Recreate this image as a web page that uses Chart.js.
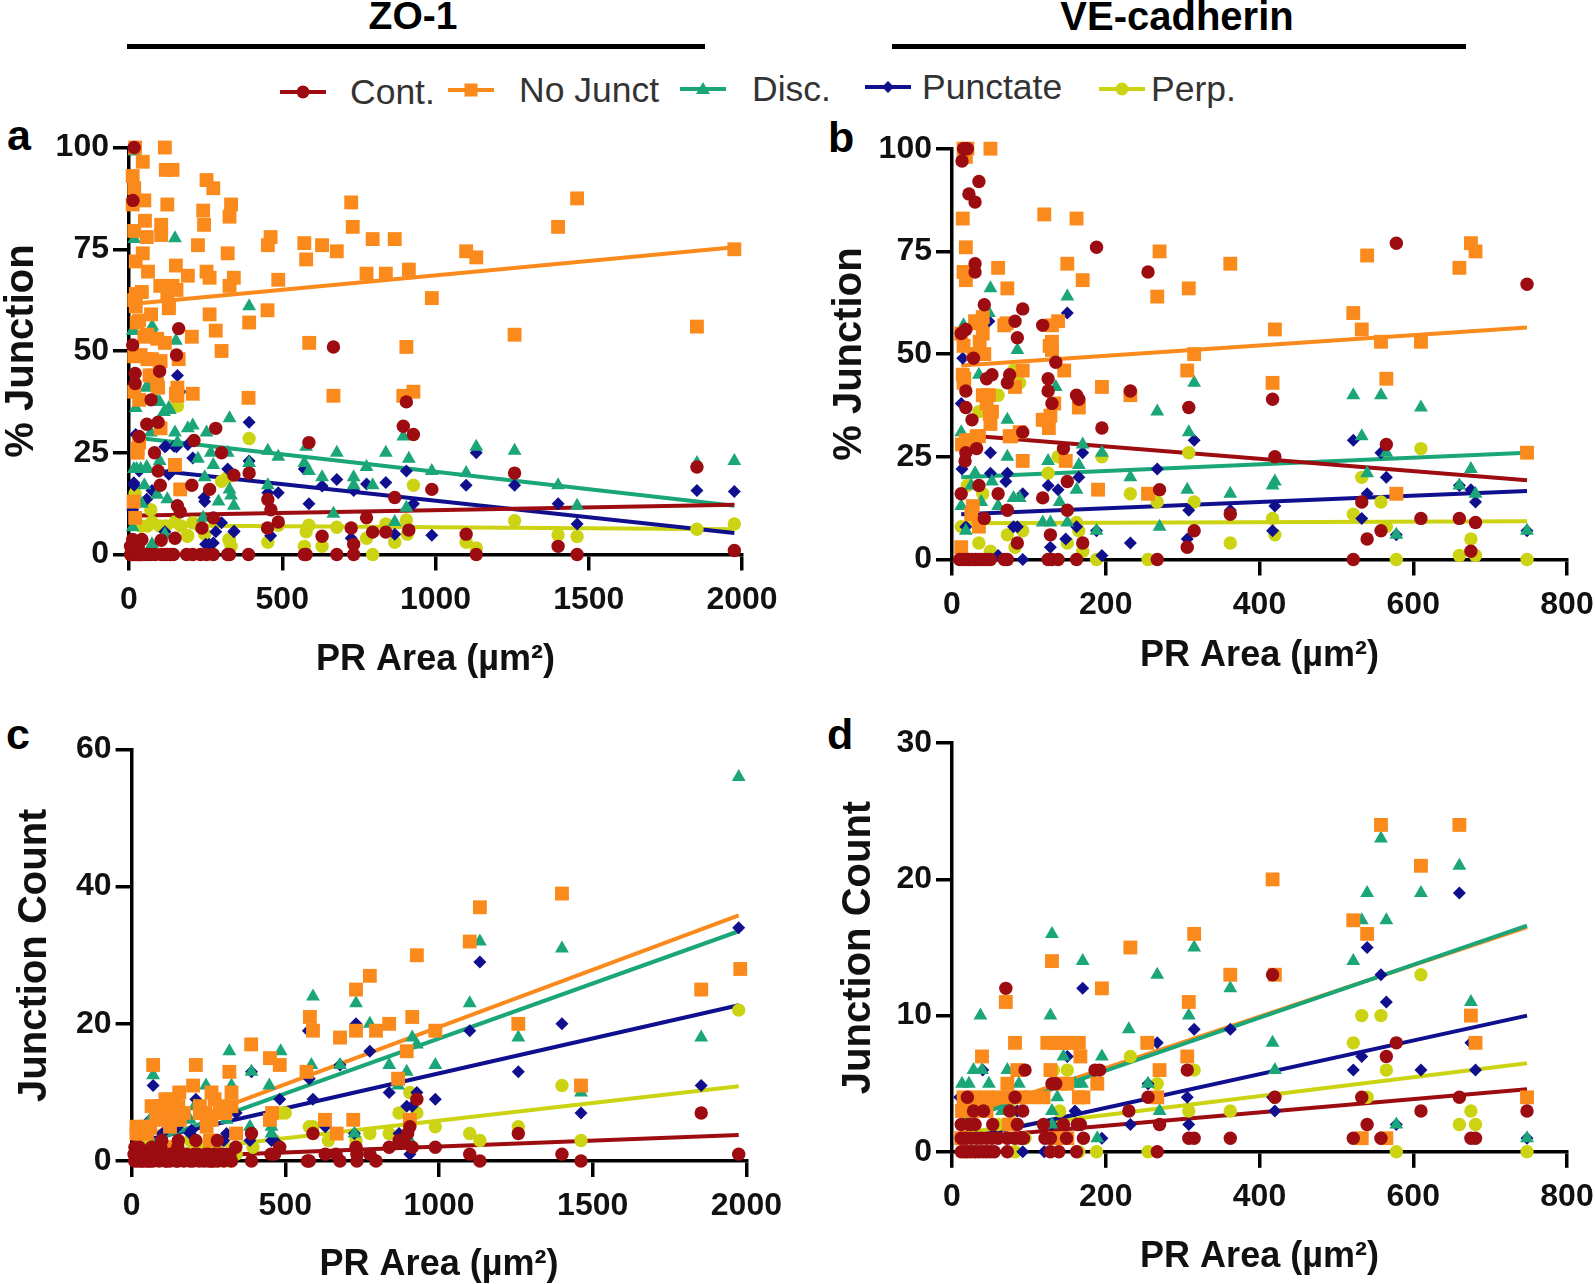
<!DOCTYPE html>
<html lang="en">
<head>
<meta charset="UTF-8">
<title>Junction type vs PR area</title>
<style>
    body { margin: 0; background: #fff; font-family: "Liberation Sans", Arial, sans-serif; color: #000; }
    #page { position: relative; width: 1595px; height: 1284px; overflow: hidden; }
    canvas { position: absolute; }
    .head { position: absolute; font-weight: bold; line-height: 40px; transform: translateX(-50%); white-space: nowrap; }
    .bar { position: absolute; height: 5px; background: #000; }
    .letter { position: absolute; font-weight: bold; font-size: 43px; line-height: 44px; }
    .leg { position: absolute; font-size: 35.5px; line-height: 38px; color: #333; white-space: nowrap; }
    .key { position: absolute; }
</style>
<script src="https://cdn.jsdelivr.net/npm/chart.js"></script>
</head>
<body>
<div id="page">
    <div class="head" style="left:413px;top:-4px;font-size:39px">ZO-1</div>
    <div class="head" style="left:1177px;top:-4px;font-size:40px">VE-cadherin</div>
    <div class="bar" style="left:127px;top:44px;width:578px"></div>
    <div class="bar" style="left:892px;top:44px;width:574px"></div>
    <div id="legend"></div>
    <div class="letter" style="left:7px;top:113px">a</div>
    <div class="letter" style="left:828px;top:115px">b</div>
    <div class="letter" style="left:6px;top:712px">c</div>
    <div class="letter" style="left:827px;top:712px">d</div>
    <canvas id="a"></canvas>
    <canvas id="b"></canvas>
    <canvas id="c"></canvas>
    <canvas id="d"></canvas>
</div>

<script>
// series names and colours
const names = ['Cont.', 'No Junct', 'Disc.', 'Punctate', 'Perp.'];
const colors = ['#9c0c10', '#fb8a1c', '#1aa678', '#10108f', '#ccd312'];
const shapes = ['circle', 'rect', 'triangle', 'rectRot', 'circle'];
const radii = [6.7, 9.8, 8, 6.5, 6.7];

// tick labels
const xTicksZO = [0, 500, 1000, 1500, 2000];
const xTicksVE = [0, 200, 400, 600, 800];
const yTicksPct = [0, 25, 50, 75, 100];
const yTicksC = [0, 20, 40, 60];
const yTicksD = [0, 10, 20, 30];

// a: ZO-1 % junction, [area, value]
const contA = [[1975,1],[1853,21.5],[1462,0],[1400,2],[1258,20],[1133,0],[1100,5],[988,16],[928,29.5],[913,6],[905,37.5],[895,31.5],[867,14],[838,5.5],[795,5.5],[775,9],[733,0],[733,2.5],[725,6.5],[678,0],[667,51],[630,4.5],[587,27.5],[578,0],[572,0],[487,8],[463,11],[453,13.5],[452,6.5],[392,20],[390,0],[342,19.5],[328,0],[322,0],[302,25],[283,31],[275,0],[263,16],[275,9],[253,0],[233,0],[208,0],[188,0],[212,28],[205,17],[238,6.5],[162,55.5],[155,49],[158,12],[167,10.5],[150,4],[100,45],[95,32.5],[95,20.5],[102,17],[83,25],[105,3.5],[58,32],[72,38],[33,29],[17,100],[13,87],[12,51.5],[20,44.5],[20,42],[5,0],[10,0],[15,0],[20,0],[25,0],[30,0],[35,0],[40,0],[50,0],[60,0],[70,0],[85,0],[105,0],[115,0],[125,0],[135,0],[145,0],[12,3.7],[42,3.7],[17,1.5],[30,2],[5,2]];
const noJunctA = [[1975,75],[1853,56],[1462,87.5],[1400,80.5],[1258,54],[1133,73],[1100,74.5],[988,63],[928,40],[913,70],[905,51],[895,39],[867,77.5],[838,69],[795,77.5],[775,69],[730,80.5],[725,86.5],[678,74.5],[667,39],[630,76],[588,52],[578,72.5],[572,76.5],[487,67.5],[462,78],[453,76],[452,60],[392,57],[390,38.5],[342,68],[328,66],[333,86],[328,83],[322,74],[302,50],[283,55],[275,90],[263,68],[253,92],[253,69.5],[263,59],[245,81],[242,84.5],[225,76],[208,39.5],[205,53.5],[192,68.5],[153,71],[142,94.5],[120,94.5],[117,100],[125,86],[105,81],[105,78.5],[102,66],[142,66],[155,65],[125,63.5],[130,60.5],[162,48],[158,41],[153,39.5],[150,22],[167,16],[117,52],[92,53],[100,47.5],[95,41],[67,44],[75,48],[50,53.5],[72,59],[62,69.5],[45,74],[58,78],[52,82],[50,87],[45,96.5],[20,100],[12,93],[17,90],[12,86],[17,79.5],[22,72],[42,64.5],[17,62.5],[25,57],[17,48.7],[17,40],[28,25],[28,26],[15,13],[20,9],[33,38],[33,57.5],[22,61],[22,64],[60,54],[38,49],[60,48],[103,47.5],[76,44],[92,41.8],[103,31],[33,27.5],[158,39],[130,61]];
const discA = [[1975,23],[1853,22.5],[1462,12],[1400,17],[1258,25.5],[1133,26.5],[1100,20],[988,20.5],[913,23.5],[905,11.5],[895,29],[867,8],[838,25],[795,17],[775,21.5],[733,19],[733,17],[678,25],[667,10],[630,19],[587,20.5],[578,26.5],[572,22.5],[487,24],[453,25.5],[453,17],[392,61],[392,22.5],[342,12],[333,14.5],[328,16],[328,33.5],[322,25],[292,13],[275,22],[267,25],[253,30],[247,19],[242,9],[225,23.5],[208,31.7],[192,31],[150,77.7],[153,52.5],[133,35.5],[150,30],[158,27.5],[125,13.6],[117,5],[100,23],[100,37.5],[92,14.7],[58,41],[72,55.5],[58,21.5],[50,17],[42,12.5],[17,99],[17,77.5],[12,55],[22,36],[25,21],[12,6.7],[75,2.5],[16,21],[38,21],[60,21],[71,30],[114,35],[130,36],[60,41.5],[92,37.7],[76,56],[16,55]];
const punctA = [[1975,15.5],[1853,15.7],[1462,7.5],[1400,12.5],[1258,17],[1133,25],[1100,17],[988,4.7],[928,12.5],[905,20.5],[867,5],[838,17.7],[775,17.3],[733,15.7],[725,4],[678,18.4],[630,16.8],[587,12.5],[572,21],[487,15.2],[462,4.6],[453,15.2],[392,32.5],[392,23],[342,5.6],[322,21],[302,7.8],[283,5.6],[275,2.8],[250,2.5],[247,13],[208,23.7],[192,27],[158,44],[167,40],[155,26.5],[117,26.5],[130,19.7],[117,5.6],[17,17],[33,20.5],[22,29.5],[12,11],[75,15.7],[58,13.6],[12,1],[16,17.6],[120,26.6],[147,26.6],[245,14],[343,5.7],[261,2.5]];
const perpA = [[1975,7.5],[1853,6.2],[1462,4.4],[1400,4.8],[1258,8.3],[1133,1.6],[1100,3],[928,17],[905,8.5],[908,5],[867,3],[838,7.5],[795,0],[775,4],[678,6.7],[630,2],[587,7.2],[578,5.6],[572,2],[487,7.2],[453,3],[392,28.5],[328,3.5],[333,2],[322,19],[302,18],[283,8],[247,5],[192,4.6],[208,7.8],[150,8],[100,7],[158,36.5],[75,8],[40,7],[20,15],[60,7],[120,7],[170,7],[230,7],[71,11],[190,4.5],[326,3.7]];

// b: VE-cadherin % junction
const contB = [[748,67],[681,9],[675,2],[660,10],[610,10],[578,77],[565,28],[558,7],[540,5],[533,14],[522,0],[420,25],[417,39],[362,11],[315,7],[308,37],[306,3],[270,17],[267,0],[255,70],[232,41],[195,32],[188,76],[170,4],[165,39],[162,40],[162,0],[150,12],[150,19],[145,27],[135,48],[130,38],[128,6],[125,41],[125,44],[118,57],[118,15],[130,0],[138,0],[125,0],[92,61],[92,31],[85,54],[82,58],[85,4],[75,45],[72,43],[72,12],[68,0],[60,16],[52,45],[45,44],[42,62],[42,10],[35,18],[35,92],[30,87],[22,89],[20,100],[15,100],[13,97],[30,72],[30,70],[12,55],[18,56],[28,49],[18,41],[18,37],[26,34],[32,27],[18,26],[17,24],[12,16],[10,0],[14,0],[18,0],[22,0],[26,0],[30,0],[34,0],[38,0],[42,0],[46,0],[50,0],[72,0]];
const noJunctB = [[748,26],[681,75],[675,77],[660,71],[610,53],[578,16],[565,44],[558,53],[540,74],[533,56],[522,60],[420,56],[417,43],[362,72],[315,50],[308,66],[306,46],[270,75],[267,64],[255,16],[232,40],[195,42],[190,17],[170,68],[165,37],[162,83],[150,72],[146,46],[148,24],[138,58],[133,38],[130,51],[130,53],[128,35],[126,32],[120,84],[118,34],[130,57],[92,46],[92,24],[88,31],[82,42],[75,30],[72,66],[68,57],[60,71],[50,100],[52,36],[50,33],[48,40],[45,38],[40,55],[40,59],[42,50],[38,58],[30,58],[35,30],[30,29],[28,50],[27,13],[25,11],[22,29],[18,68],[18,76],[14,83],[20,100],[18,98],[15,70],[12,55],[14,45],[15,52],[13,28],[12,3],[15,43],[35,8],[15,100],[32,57.5],[71,57.5],[127,52],[16,44],[40,40],[49,35.5],[123,34],[77,30],[18,29],[32,30],[36,53]];
const discB = [[748,7],[681,16],[675,22],[660,18],[610,37],[578,6],[565,26],[558,40],[540,21],[533,30],[522,40],[420,19],[417,18],[362,16],[315,43],[308,31],[306,17],[270,8],[267,36],[232,20],[195,26],[188,7],[170,28],[165,23],[162,17],[150,64],[150,9],[140,14],[135,42],[125,24],[128,9],[118,9],[85,51],[88,15],[80,15],[72,34],[72,25],[60,13],[52,19],[50,66],[48,60],[38,14],[35,45],[12,31],[15,57],[18,7],[12,13],[25,18],[30,21]];
const punctB = [[748,7],[681,14],[675,17],[660,18],[578,6],[565,20],[558,26],[540,16],[533,10],[522,29],[420,13],[417,7],[362,12],[315,29],[308,12],[306,5],[267,22],[232,4],[195,1],[188,7],[170,26],[165,20],[162,8],[150,60],[148,5],[138,17],[125,18],[128,3],[125,0],[92,16],[92,0],[85,8],[80,8],[72,21],[70,19],[60,1],[50,26],[50,21],[48,58],[18,8],[14,49],[12,38],[13,22],[25,0]];
const perpB = [[748,0],[681,1],[675,5],[660,1],[610,27],[578,0],[565,8],[558,14],[533,20],[522,11],[420,6],[417,10],[362,4],[315,14],[308,26],[267,14],[255,0],[232,16],[195,25],[188,0],[170,2],[165,7],[162,9],[150,4],[138,25],[125,21],[92,7],[88,43],[80,46],[72,6],[82,3],[60,40],[50,2],[35,4],[35,36],[12,8],[20,18],[40,16]];

// c: ZO-1 junction count
const contC = [[1975,1],[1853,7],[1462,0],[1400,1],[1258,4],[1133,0],[1100,1],[988,2],[928,9],[913,2],[905,5],[898,4],[885,3],[870,3],[838,2],[795,0],[775,1],[733,0],[733,1],[730,2],[678,0],[665,1],[630,1],[590,4],[578,0],[572,0],[482,2],[465,1],[453,1],[390,4],[390,0],[339,2],[325,0],[320,1],[279,3],[270,1],[250,1],[235,0],[209,3],[205,1],[190,0],[180,1],[152,3],[150,2],[145,0],[125,1],[98,3],[95,2],[90,0],[80,1],[65,2],[55,0],[40,1],[25,2],[11,2],[10,0],[20,0],[30,0],[8,1],[70,0],[115,0],[135,1],[220,0],[260,0],[300,0],[295,1],[15,1],[25,1],[35,0],[45,0],[55,1],[60,0],[105,1],[110,0],[125,0],[150,0],[155,1],[170,0],[200,0],[215,1],[240,1],[250,0],[265,0],[280,0],[285,1],[310,1]];
const noJunctC = [[1980,28],[1853,25],[1462,11],[1400,39],[1258,20],[1133,37],[1100,32],[988,19],[928,30],[913,21],[895,16],[905,6],[867,12],[838,20],[795,19],[775,27],[730,25],[730,19],[721,6],[678,18],[667,4],[629,6],[590,19],[580,21],[569,13],[482,14],[457,7],[450,15],[450,6],[389,17],[340,4],[318,13],[325,10],[325,8],[298,8],[287,7],[260,10],[260,6],[244,5],[255,3],[222,8],[222,7],[209,14],[200,11],[155,10],[152,8],[157,6],[135,6],[125,9],[125,5],[108,7],[92,8],[92,6],[70,14],[65,8],[60,5],[43,5],[16,5],[16,4],[30,4],[50,4],[122,2],[80,7],[110,9],[140,7],[170,7],[240,7],[270,9],[305,7]];
const discC = [[1975,56],[1853,18],[1462,10],[1400,31],[1258,18],[1133,32],[1100,23],[988,14],[928,17],[913,18],[895,13],[867,11],[838,14],[905,3],[795,0],[775,20],[730,23],[725,4],[678,14],[590,24],[585,14],[485,16],[448,11],[455,5],[455,4],[390,13],[385,5],[325,11],[318,16],[309,6],[242,11],[205,8],[190,6],[70,12.5],[60,6],[150,8],[100,6],[130,7],[250,6]];
const punctC = [[1975,34],[1853,11],[1462,7],[1400,20],[1258,13],[1133,29],[1100,19],[988,9],[928,10],[913,8],[895,8],[905,1],[870,4],[838,10],[775,16],[730,20],[725,4],[678,14],[630,5],[590,9],[578,12],[575,19],[482,9],[455,3],[465,3],[390,13],[385,3],[340,7],[309,4],[300,3],[209,9],[195,4.5],[70,11],[60,6],[190,4],[150,5],[100,4]];
const perpC = [[1975,22],[1462,3],[1400,11],[1258,5],[1133,3],[1100,4],[988,5],[928,7],[905,10],[870,7],[838,4],[775,4],[730,3],[590,5],[578,5],[487,7],[465,3],[395,2],[340,1],[320,0],[190,3],[100,1],[230,2],[60,1],[40,3],[150,2],[275,0],[500,7],[640,3]];

// d: VE-cadherin junction count
const contD = [[748,3],[681,1],[675,1],[660,4],[610,3],[578,8],[565,7],[558,1],[540,2],[533,4],[522,1],[420,4],[417,13],[362,1],[315,1],[308,1],[306,6],[270,2],[267,0],[255,4],[230,3],[192,6],[186,6],[171,1],[167,2],[163,2],[162,0],[149,1],[145,2],[135,5],[130,5],[128,1],[121,1],[119,2],[128,0],[139,0],[95,6],[92,3],[93,1],[85,2],[82,4],[75,3],[89,1],[82,1],[72,1],[70,12],[72,0],[60,1],[53,2],[41,3],[28,3],[30,2],[20,4],[22,2],[12,2],[12,1],[18,1],[25,1],[32,1],[38,1],[45,1],[52,1],[12,0],[16,0],[20,0],[25,0],[30,0],[35,0],[40,0],[45,0],[50,0],[55,0]];
const noJunctD = [[748,4],[681,8],[675,10],[660,24],[610,21],[565,1],[558,24],[540,16],[533,1],[522,17],[420,13],[417,20],[362,13],[315,16],[308,11],[306,7],[270,6],[267,4],[254,8],[232,15],[195,12],[189,5],[171,4],[165,4],[167,7],[165,8],[154,8],[143,8],[134,8],[124,8],[130,14],[128,6],[150,5],[141,5],[119,4],[102,4],[90,4],[85,6],[82,8],[70,11],[72,5],[74,2],[39,7],[75,4],[60,4],[45,4],[30,4],[15,4],[13,3],[28,3],[45,3],[12,1],[134,1],[150,1]];
const discD = [[748,1],[675,11],[660,21],[610,19],[578,2],[565,17],[558,23],[540,19],[533,17],[522,14],[420,6],[417,8],[362,12],[315,15],[308,10],[270,3],[267,13],[255,5],[230,9],[195,7],[189,1],[170,14],[169,5],[160,5],[145,7],[137,4],[130,16],[128,10],[130,3],[87,5],[72,6],[48,5],[37,10],[39,6],[28,6],[13,5],[22,5],[65,3],[130,2]];
const punctD = [[748,1],[681,6],[675,8],[660,19],[610,6],[578,2],[565,11],[558,13],[540,15],[533,7],[522,6],[420,3],[417,4],[362,9],[315,9],[308,2],[306,4],[267,8],[255,5],[232,2],[195,1],[170,12],[160,3],[150,7],[130,2],[120,0],[92,0],[40,6],[40,7],[25,2],[10,4],[85,3]];
const perpD = [[748,0],[681,2],[675,3],[660,2],[610,13],[578,0],[565,6],[558,10],[540,4],[533,10],[522,8],[420,4],[362,3],[315,6],[308,3],[267,5],[255,0],[232,7],[188,0],[150,6],[140,3],[165,0],[95,1],[80,3],[82,0],[60,2],[20,0],[30,0],[132,6]];

// fitted lines, [start, end], same order as names
const trendA = [[[42,9.6],[1975,12.2]], [[42,61.8],[1975,75.5]], [[25,28.7],[1975,12]], [[58,20.9],[1975,5.3]], [[25,7.2],[1975,6.2]]];
const trendB = [[[43,29.9],[748,19.3]], [[12,47.2],[748,56.5]], [[12,20],[748,26]], [[12,11],[748,16.7]], [[12,8.8],[748,9.3]]];
const trendC = [[[10,0.4],[1975,3.8]], [[10,3],[1975,35.8]], [[10,2],[1975,33.5]], [[10,2.7],[1975,22.7]], [[10,0.8],[1975,10.9]]];
const trendD = [[[12,1],[748,4.6]], [[12,2.6],[748,16.5]], [[12,2.3],[748,16.6]], [[12,0.9],[748,10]], [[12,1.4],[748,6.5]]];
// the green fit sits over the orange one
const trendOrder = [0, 2, 1, 3, 4];

const FONT = 'Liberation Sans';

function toXY(pairs) {
    return pairs.map(p => ({ x: p[0], y: p[1] }));
}

function axis(ticks, title, titleSize, titlePad, tickPad, extra) {
    return Object.assign({
        type: 'linear',
        min: ticks[0],
        max: ticks[ticks.length - 1],
        afterBuildTicks: s => { s.ticks = ticks.map(v => ({ value: v })); },
        border: { color: '#000', width: 3.5 },
        grid: { drawOnChartArea: false, color: '#000', lineWidth: 3.5, tickLength: 16 },
        ticks: {
            color: '#111',
            padding: tickPad,
            autoSkip: false,
            maxRotation: 0,
            font: { family: FONT, size: 32, weight: 'bold' },
            callback: v => String(v)
        },
        title: { display: true, text: title, color: '#111', padding: titlePad, font: { family: FONT, size: titleSize, weight: 'bold' } }
    }, extra);
}

function panel(id, box, series, trends, xTicks, yTicks, yTitle) {
    const el = document.getElementById(id);
    el.width = box.w;
    el.height = box.h;
    el.style.left = box.left + 'px';
    el.style.top = box.top + 'px';

    const datasets = [];
    // first dataset is painted last: markers over the fitted lines
    series.forEach((s, i) => datasets.push({
        label: names[i],
        data: toXY(s),
        pointStyle: shapes[i],
        pointRadius: radii[i],
        backgroundColor: colors[i],
        borderColor: colors[i],
        borderWidth: 0,
        clip: false
    }));
    trendOrder.forEach(i => datasets.push({
        label: names[i] + ' fit',
        data: toXY(trends[i]),
        showLine: true,
        borderColor: colors[i],
        borderWidth: 4,
        pointRadius: 0,
        clip: false
    }));

    new Chart(el, {
        type: 'scatter',
        data: { datasets: datasets },
        options: {
            responsive: false,
            animation: false,
            layout: { padding: { top: box.padTop, right: box.padRight, left: 0, bottom: 0 } },
            plugins: { legend: { display: false }, tooltip: { enabled: false } },
            scales: {
                x: axis(xTicks, 'PR Area (µm²)', 36, { top: 0, bottom: box.titleBottom }, 10, { afterFit: s => { s.height = box.axisH; } }),
                y: axis(yTicks, yTitle, 40, { top: box.titleLeft, bottom: 0 }, 4, { afterFit: s => { s.width = box.axisW; } })
            }
        }
    });
}

panel('a', { left: 0, top: 120, w: 790, h: 564, padTop: 27.5, padRight: 48, axisW: 129, axisH: 129.5, titleLeft: -1.8, titleBottom: 2 },
    [contA, noJunctA, discA, punctA, perpA], trendA, xTicksZO, yTicksPct, '% Junction');
// b and d run a little past the page edge so the 800 label never squeezes the plot
panel('b', { left: 800, top: 120, w: 820, h: 560, padTop: 28.7, padRight: 53, axisW: 152, axisH: 120.5, titleLeft: 26, titleBottom: 2.5 },
    [contB, noJunctB, discB, punctB, perpB], trendB, xTicksVE, yTicksPct, '% Junction');
panel('c', { left: 0, top: 720, w: 795, h: 564, padTop: 29.5, padRight: 48.6, axisW: 131.6, axisH: 123, titleLeft: 11, titleBottom: -2.4 },
    [contC, noJunctC, discC, punctC, perpC], trendC, xTicksZO, yTicksC, 'Junction Count');
panel('d', { left: 800, top: 720, w: 820, h: 560, padTop: 22, padRight: 53, axisW: 152, axisH: 128.2, titleLeft: 35, titleBottom: 1.5 },
    [contD, noJunctD, discD, punctD, perpD], trendD, xTicksVE, yTicksD, 'Junction Count');

// legend row, the source figure drifts a little upward to the right
const legendPos = [
    { x: 280, y: 92, text: 350 },
    { x: 448, y: 90, text: 519 },
    { x: 680, y: 89, text: 752 },
    { x: 865, y: 87, text: 922 },
    { x: 1099, y: 89, text: 1151 }
];
const svgNS = 'http://www.w3.org/2000/svg';
const legendBox = document.getElementById('legend');
names.forEach((name, i) => {
    const p = legendPos[i];
    const svg = document.createElementNS(svgNS, 'svg');
    svg.setAttribute('width', 46);
    svg.setAttribute('height', 20);
    svg.setAttribute('class', 'key');
    svg.style.left = p.x + 'px';
    svg.style.top = (p.y - 10) + 'px';
    const s = colors[i];
    let mark = '<line x1="0" y1="10" x2="46" y2="10" stroke="' + s + '" stroke-width="4"/>';
    if (shapes[i] === 'circle') mark += '<circle cx="23" cy="10" r="6.5" fill="' + s + '"/>';
    if (shapes[i] === 'rect') mark += '<rect x="16.5" y="3.5" width="13" height="13" fill="' + s + '"/>';
    if (shapes[i] === 'triangle') mark += '<polygon points="23,3 30,15 16,15" fill="' + s + '"/>';
    if (shapes[i] === 'rectRot') mark += '<polygon points="23,4 29,10 23,16 17,10" fill="' + s + '"/>';
    svg.innerHTML = mark;
    legendBox.appendChild(svg);

    const label = document.createElement('div');
    label.className = 'leg';
    label.textContent = name;
    label.style.left = p.text + 'px';
    label.style.top = (p.y - 19) + 'px';
    legendBox.appendChild(label);
});
</script>
</body>
</html>
